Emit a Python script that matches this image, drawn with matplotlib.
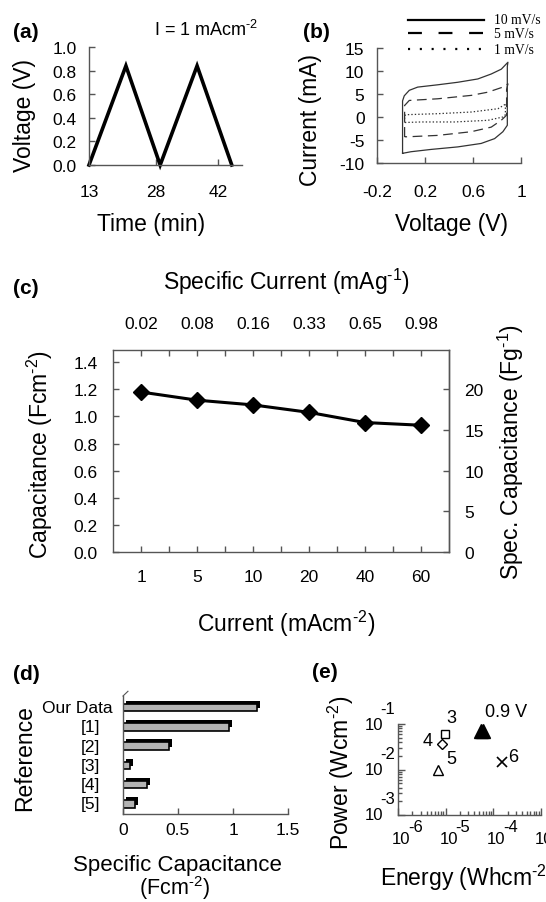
import matplotlib
matplotlib.use('Agg')
import matplotlib.pyplot as plt
from matplotlib.lines import Line2D
import matplotlib.patheffects as pe
import matplotlib.ticker as mticker

plt.rcParams['font.family'] = ['Liberation Sans', 'DejaVu Sans']
plt.rcParams['mathtext.fontset'] = 'custom'
plt.rcParams['mathtext.rm'] = 'Liberation Sans'
plt.rcParams['mathtext.it'] = 'Liberation Sans:italic'
plt.rcParams['mathtext.bf'] = 'Liberation Sans:bold'
plt.rcParams['lines.scale_dashes'] = False
plt.rcParams['axes.unicode_minus'] = False

# ---------------- data ----------------
# (a) charge / discharge curve
time_a = [13.0, 21.3, 29.0, 37.3, 45.1]
volt_a = [0.0, 0.84, 0.0, 0.84, 0.0]
time_ticks = [13, 28, 42]
volt_ticks = [0.0, 0.2, 0.4, 0.6, 0.8, 1.0]

# (b) cyclic voltammograms (closed loops)
cv10_v = [0.013, 0.013, 0.027, 0.069, 0.139, 0.306, 0.473, 0.640, 0.752, 0.836, 0.891,
          0.886, 0.886, 0.849, 0.780, 0.668, 0.473, 0.250, 0.083, 0.013]
cv10_i = [-7.9, 3.5, 4.6, 5.8, 6.5, 7.0, 7.55, 8.27, 9.35, 10.4, 11.9,
          11.0, -1.8, -3.2, -4.7, -5.75, -6.5, -7.05, -7.55, -7.9]
cv5_v = [0.03, 0.03, 0.069, 0.306, 0.585, 0.724, 0.849, 0.891, 0.88, 0.88,
         0.836, 0.752, 0.585, 0.306, 0.055, 0.03]
cv5_i = [-4.3, 2.5, 3.6, 3.96, 4.7, 5.4, 6.5, 7.2, 6.0, 0.4,
         -0.7, -2.2, -3.2, -4.0, -4.3, -4.3]
cv1_v = [0.03, 0.03, 0.041, 0.306, 0.585, 0.808, 0.878, 0.87, 0.87,
         0.849, 0.724, 0.445, 0.167, 0.027, 0.03]
cv1_i = [-1.2, 0.3, 0.5, 0.72, 1.08, 1.8, 2.9, 2.2, 0.5,
         0.0, -0.72, -1.08, -1.08, -1.2, -1.2]
volt_b_ticks = [-0.2, 0.2, 0.6, 1.0]
volt_b_labels = ['-0.2', '0.2', '0.6', '1']
curr_b_ticks = [-10, -5, 0, 5, 10, 15]
scan_labels = ['10 mV/s', '5 mV/s', '1 mV/s']

# (c) capacitance vs current
current_labels = ['1', '5', '10', '20', '40', '60']
spec_current_labels = ['0.02', '0.08', '0.16', '0.33', '0.65', '0.98']
capacitance_c = [1.18, 1.12, 1.085, 1.03, 0.955, 0.935]
cap_ticks = [0.0, 0.2, 0.4, 0.6, 0.8, 1.0, 1.2, 1.4]
spec_cap_ticks = [0, 5, 10, 15, 20]

# (d) comparison bars
refs = ['Our Data', '[1]', '[2]', '[3]', '[4]', '[5]']
spec_cap = [1.22, 0.96, 0.42, 0.06, 0.22, 0.11]
spec_cap_xticks = [0, 0.5, 1, 1.5]
spec_cap_xlabels = ['0', '0.5', '1', '1.5']

# (e) Ragone plot
energy_09V = [5.5e-5, 6.1e-5]
power_09V = [0.071, 0.071]
energy_r3, power_r3 = 9.7e-6, 0.060
energy_r4, power_r4 = 8.3e-6, 0.036
energy_r5, power_r5 = 6.8e-6, 0.0097
energy_r6, power_r6 = 1.53e-4, 0.0148
energy_exp = [-6, -5, -4, -3]
power_exp = [-3, -2, -1]

# ---------------- figure ----------------
W, H = 546, 903
fig = plt.figure(figsize=(W / 100, H / 100), dpi=100)
SP = '#555555'
TICK_FS = 12.5
LAB_FS = 16.5
PAN_FS = 15
SUP = lambda s: r'$^{\text{' + s + '}}$'


def px_axes(l, t, r, b):
    return fig.add_axes([l / W, 1 - b / H, (r - l) / W, (b - t) / H])


def style(ax, spines=('left', 'bottom')):
    for s in ax.spines:
        ax.spines[s].set_visible(s in spines)
        ax.spines[s].set_color(SP)
        ax.spines[s].set_linewidth(1.0)
    ax.tick_params(which='both', direction='in', color=SP, width=1.0, labelsize=TICK_FS)
    ax.tick_params(which='major', length=4)
    ax.tick_params(which='minor', length=2.5)


def ftext(x, y, s, **kw):
    kw.setdefault('ha', 'center')
    kw.setdefault('va', 'center')
    fig.text(x / W, 1 - y / H, s, **kw)


# ---- (a)
ax_a = px_axes(89, 48, 242, 166)
style(ax_a)
ax_a.plot(time_a, volt_a, color='black', lw=2.6, solid_joinstyle='miter', clip_on=False)
ax_a.set_xlim(13, 47.4)
ax_a.set_ylim(0, 1.0)
ax_a.set_xticks(time_ticks)
ax_a.set_yticks(volt_ticks)
ax_a.yaxis.set_major_formatter(mticker.FormatStrFormatter('%.1f'))
ax_a.tick_params(axis='x', pad=13.5)
ax_a.tick_params(axis='y', pad=9)
ftext(13, 33, '(a)', ha='left', fontsize=PAN_FS, fontweight='bold')
ftext(206, 30, 'I = 1 mAcm' + SUP('-2'), fontsize=13)
ftext(25, 116, 'Voltage (V)', rotation=90, fontsize=LAB_FS)
ftext(151, 224, 'Time (min)', fontsize=LAB_FS)

# ---- (b)
ax_b = px_axes(377, 49, 521, 164)
style(ax_b)
ax_b.plot(cv10_v, cv10_i, color='#333333', lw=0.9)
ax_b.plot(cv5_v, cv5_i, color='#333333', lw=0.9, dashes=(7, 4))
ax_b.plot(cv1_v, cv1_i, color='#333333', lw=0.9, dashes=(1, 1.5))
ax_b.set_xlim(-0.2, 1.0)
ax_b.set_ylim(-10, 15)
ax_b.set_xticks(volt_b_ticks, volt_b_labels)
ax_b.set_yticks(curr_b_ticks)
ax_b.tick_params(axis='x', pad=15)
ax_b.tick_params(axis='y', pad=9)
ftext(303, 33, '(b)', ha='left', fontsize=PAN_FS, fontweight='bold')
ftext(311, 120, 'Current (mA)', rotation=90, fontsize=LAB_FS)
ftext(452, 224, 'Voltage (V)', fontsize=LAB_FS)
leg_styles = [dict(), dict(dashes=(10, 12)), dict(dashes=(1.5, 7))]
for k, (lab, st) in enumerate(zip(scan_labels, leg_styles)):
    yy = 1 - [21, 34, 50][k] / H
    fig.add_artist(Line2D([408 / W, 484 / W], [yy, yy], color='black', lw=1.6, **st))
    fig.text(494 / W, yy, lab, ha='left', va='center', fontsize=9.8,
             family=['Liberation Serif', 'DejaVu Serif'])

# ---- (c)
ax_c = px_axes(113, 351, 449, 553)
style(ax_c, spines=('left', 'bottom', 'top', 'right'))
xs = list(range(len(capacitance_c)))
ax_c.plot(xs, capacitance_c, color='black', lw=2.2, marker='D', ms=8)
ax_c.set_xlim(-0.5, 5.5)
ax_c.set_ylim(0, 1.49)
ax_c.set_xticks(xs, current_labels)
ax_c.set_xticks([0.5, 1.5, 2.5, 3.5, 4.5], minor=True)
ax_c.set_yticks(cap_ticks)
ax_c.yaxis.set_major_formatter(mticker.FormatStrFormatter('%.1f'))
ax_c.tick_params(which='both', top=True)
ax_c.tick_params(which='minor', length=4)
ax_c.tick_params(axis='x', pad=12.5)
ax_c.tick_params(axis='y', pad=11)
sec = ax_c.secondary_xaxis('top')
sec.set_xticks(xs, spec_current_labels)
sec.tick_params(length=0, labelsize=TICK_FS, pad=14)
sec.spines['top'].set_visible(False)
ax_r = ax_c.twinx()
style(ax_r, spines=('right',))
ax_r.set_ylim(0, 1.49 * 50 / 3)
ax_r.set_yticks(spec_cap_ticks)
ax_r.tick_params(axis='y', pad=11)
ftext(13, 288, '(c)', ha='left', fontsize=PAN_FS, fontweight='bold')
ftext(286, 282, 'Specific Current (mAg' + SUP('-1') + ')', fontsize=LAB_FS)
ftext(40, 455, 'Capacitance (Fcm' + SUP('-2') + ')', rotation=90, fontsize=LAB_FS)
ftext(511, 452, 'Spec. Capacitance (Fg' + SUP('-1') + ')', rotation=90, fontsize=LAB_FS)
ftext(286, 624, 'Current (mAcm' + SUP('-2') + ')', fontsize=LAB_FS)

# ---- (d)
ax_d = px_axes(123, 697, 288, 815)
style(ax_d)
ys = list(range(len(spec_cap)))
bars = ax_d.barh(ys, spec_cap, height=0.38, color='#b3b3b3', edgecolor='black', linewidth=1.2)
for b in bars:
    b.set_path_effects([pe.SimplePatchShadow(offset=(2.2, 2.2), shadow_rgbFace='black', alpha=1.0),
                        pe.Normal()])
ax_d.set_xlim(0, 1.5)
ax_d.set_ylim(5.52, -0.6)
ax_d.set_xticks(spec_cap_xticks, spec_cap_xlabels)
ax_d.tick_params(axis='x', pad=6)
ax_d.set_yticks([])
for i, r in enumerate(refs):
    ax_d.annotate(r, xy=(0, i), xycoords=('axes fraction', 'data'),
                  xytext=(-10 if i == 0 else -23, 0), textcoords='offset pixels',
                  ha='right', va='center', fontsize=TICK_FS, annotation_clip=False)
ax_d.add_artist(Line2D([0, 0.03], [1.0, 1.04], transform=ax_d.transAxes, color=SP, lw=0.8, clip_on=False))
ftext(13, 675, '(d)', ha='left', fontsize=PAN_FS, fontweight='bold')
ftext(25, 758, 'Reference', rotation=90, fontsize=LAB_FS)
ftext(177, 871, 'Specific Capacitance', va='baseline', fontsize=16)
ftext(174, 895, '(Fcm' + SUP('-2') + ')', va='baseline', fontsize=15.5)

# ---- (e)
ax_e = px_axes(398, 725, 541, 816)
style(ax_e)
ax_e.set_xscale('log')
ax_e.set_yscale('log')
ax_e.set_xlim(1e-6, 1e-3)
ax_e.set_ylim(1e-3, 1e-1)
ax_e.plot(energy_09V, power_09V, linestyle='none', marker='^', ms=10, color='black', clip_on=False)
ax_e.plot([energy_r3], [power_r3], linestyle='none', marker='s', ms=6, mfc='white', mec='black', mew=1)
ax_e.plot([energy_r4], [power_r4], linestyle='none', marker='D', ms=5, mfc='white', mec='black', mew=1)
ax_e.plot([energy_r5], [power_r5], linestyle='none', marker='^', ms=7, mfc='white', mec='black', mew=1)
ax_e.plot([energy_r6], [power_r6], linestyle='none', marker='x', ms=7, color='black', mew=1.2)
ax_e.tick_params(labelbottom=False, labelleft=False)
ax_e.tick_params(which='major', length=5)
ax_e.tick_params(which='minor', length=3)
for txt, (ex, py) in zip(['3', '4', '5', '6'],
                         [(1.3e-5, 0.139), (4.1e-6, 0.0444), (1.3e-5, 0.0178), (2.66e-4, 0.0197)]):
    ax_e.text(ex, py, txt, ha='center', va='center', fontsize=13, clip_on=False)
ax_e.text(6.8e-5, 0.184, '0.9 V', ha='left', va='center', fontsize=13, clip_on=False)
for e in energy_exp:
    ax_e.annotate('10', xy=(10.0 ** e, 0), xycoords=('data', 'axes fraction'), xytext=(3, -24),
                  textcoords='offset pixels', ha='center', va='center', fontsize=12, annotation_clip=False)
    ax_e.annotate(str(e), xy=(10.0 ** e, 0), xycoords=('data', 'axes fraction'), xytext=(10, -12),
                  textcoords='offset pixels', ha='left', va='center', fontsize=12, annotation_clip=False)
for e in power_exp:
    ax_e.annotate('10', xy=(0, 10.0 ** e), xycoords=('axes fraction', 'data'), xytext=(-15, 0),
                  textcoords='offset pixels', ha='right', va='center', fontsize=12, annotation_clip=False)
    ax_e.annotate(str(e), xy=(0, 10.0 ** e), xycoords=('axes fraction', 'data'), xytext=(-18, 16),
                  textcoords='offset pixels', ha='left', va='center', fontsize=12, annotation_clip=False)
ftext(312, 673, '(e)', ha='left', fontsize=PAN_FS, fontweight='bold')
ftext(341, 773, 'Power (Wcm' + SUP('-2') + ')', rotation=90, fontsize=LAB_FS)
ftext(380, 878, 'Energy (Whcm' + SUP('-2') + ')', ha='left', fontsize=LAB_FS)

fig.savefig('out.png', dpi=100)
